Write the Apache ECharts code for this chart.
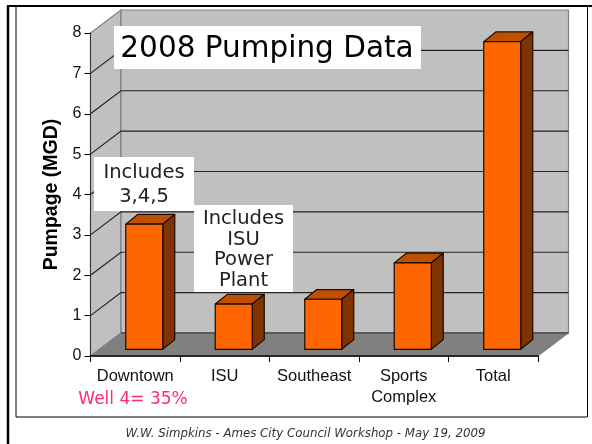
<!DOCTYPE html>
<html>
<head>
<meta charset="utf-8">
<style>
  html, body { margin: 0; padding: 0; background: #fff; }
  #main { width: 592px; height: 444px; }
</style>
<script src="https://cdn.jsdelivr.net/npm/echarts@6/dist/echarts.min.js"></script>
</head>
<body>
<div id="main"></div>
<script>
var categories = ['Downtown', 'ISU', 'Southeast', 'Sports\nComplex', 'Total'];
var pumpage = [3.1, 1.12, 1.24, 2.14, 7.62];
var yTicks = [1, 2, 3, 4, 5, 6, 7];

// fake 3d offsets
var wallDx = 30.5, wallDy = 23;
var barDx = 9, barDy = 6.7;
var sideDx = 12, sideDy = 9.7;
var barW = 37;

var chart = echarts.init(document.getElementById('main'), null, { renderer: 'canvas' });

function renderWalls(params, api) {
  var g = params.coordSys;
  var x0 = g.x, x1 = g.x + g.width, y0 = g.y, y1 = g.y + g.height;
  var wall = { fill: '#c0c0c0', stroke: '#808080', lineWidth: 1.2 };
  return {
    type: 'group',
    children: [
      { type: 'polygon', shape: { points: [[x0, y1], [x0 + wallDx, y1 - wallDy], [x0 + wallDx, y0 - wallDy], [x0, y0]] }, style: wall },
      { type: 'polygon', shape: { points: [[x0 + wallDx, y1 - wallDy], [x1 + wallDx, y1 - wallDy], [x1 + wallDx, y0 - wallDy], [x0 + wallDx, y0 - wallDy]] }, style: wall },
      { type: 'polygon', shape: { points: [[x0, y1], [x1, y1], [x1 + wallDx, y1 - wallDy], [x0 + wallDx, y1 - wallDy]] }, style: { fill: '#808080', stroke: '#808080', lineWidth: 1 } },
      { type: 'line', shape: { x1: x0 + wallDx, y1: y1 - wallDy, x2: x1 + wallDx, y2: y1 - wallDy }, style: { stroke: '#4d4d4d', lineWidth: 1.4 } }
    ]
  };
}

function renderGrid(params, api) {
  var g = params.coordSys;
  var y = api.coord([0, api.value(1)])[1];
  return {
    type: 'polyline',
    shape: { points: [[g.x, y], [g.x + wallDx, y - wallDy], [g.x + g.width + wallDx, y - wallDy]] },
    style: { fill: 'none', stroke: '#222', lineWidth: 1.2 }
  };
}

function renderBar(params, api) {
  var top = api.coord([api.value(0), api.value(1)]);
  var base = api.coord([api.value(0), 0]);
  var xl = top[0] - barW / 2 + barDx;
  var xr = xl + barW;
  var yt = top[1] - barDy;
  var yb = base[1] - barDy;
  var edge = { stroke: '#1a0a00', lineWidth: 1.2, lineJoin: 'round' };
  return {
    type: 'group',
    children: [
      { type: 'polygon', shape: { points: [[xl, yt], [xr, yt], [xr + sideDx, yt - sideDy], [xl + sideDx, yt - sideDy]] }, style: Object.assign({ fill: '#bf5000' }, edge) },
      { type: 'polygon', shape: { points: [[xr, yt], [xr + sideDx, yt - sideDy], [xr + sideDx, yb - sideDy], [xr, yb]] }, style: Object.assign({ fill: '#7f3300' }, edge) },
      { type: 'rect', shape: { x: xl, y: yt, width: barW, height: yb - yt }, style: Object.assign({ fill: '#ff6600' }, edge) }
    ]
  };
}

function box(x, y, w, h) {
  return { type: 'rect', z: 50, shape: { x: x, y: y, width: w, height: h }, style: { fill: '#fff' } };
}

function note(txt, x, y, size, lh, color, extra) {
  return {
    type: 'text', z: 60, x: x, y: y,
    style: Object.assign({
      text: txt, fill: color, font: size + 'px "DejaVu Sans"', lineHeight: lh,
      align: 'center', verticalAlign: 'middle'
    }, extra || {})
  };
}

function border(x1, y1, x2, y2, w) {
  return { type: 'line', z: 70, shape: { x1: x1, y1: y1, x2: x2, y2: y2 }, style: { stroke: '#000', lineWidth: w } };
}

var option = {
  animation: false,
  grid: { left: 90.5, top: 33, width: 447.5, height: 323, containLabel: false },
  xAxis: {
    type: 'category',
    data: categories,
    boundaryGap: true,
    z: 10,
    axisLine: { lineStyle: { color: '#000', width: 1.5 } },
    axisTick: { show: true, alignWithLabel: false, length: 6, lineStyle: { color: '#000', width: 1 } },
    axisLabel: { color: '#111', fontFamily: 'Liberation Sans', fontSize: 16.5, margin: 10, lineHeight: 21, interval: 0 }
  },
  yAxis: {
    type: 'value',
    min: 0,
    max: 8,
    interval: 1,
    name: 'Pumpage (MGD)',
    nameLocation: 'middle',
    nameRotate: 90,
    nameGap: 28,
    nameTextStyle: { color: '#000', fontFamily: 'Liberation Sans', fontWeight: 'bold', fontSize: 19.5 },
    z: 10,
    splitLine: { show: false },
    axisLine: { show: true, lineStyle: { color: '#333', width: 1 } },
    axisTick: { show: true, length: 6, lineStyle: { color: '#000', width: 1 } },
    axisLabel: { color: '#111', fontFamily: 'Liberation Sans', fontSize: 16, margin: 9 }
  },
  series: [
    { type: 'custom', name: 'walls', silent: true, z: 1, clip: false, renderItem: renderWalls, data: [[0, 0]] },
    { type: 'custom', name: 'grid', silent: true, z: 2, clip: false, renderItem: renderGrid, data: yTicks.map(function (v) { return [0, v]; }) },
    { type: 'custom', name: 'Pumpage', z: 3, clip: false, renderItem: renderBar, data: pumpage.map(function (v, i) { return [i, v]; }) }
  ],
  graphic: [
    box(114, 26, 307, 43),
    note('2008 Pumping Data', 267, 49, 29.5, 36, '#000'),
    box(94, 157, 100, 54),
    note('Includes\n3,4,5', 144, 185, 19.5, 24, '#222'),
    box(194, 205, 99, 87),
    note('Includes\nISU\nPower\nPlant', 243.5, 250, 19.5, 20.5, '#222'),
    note('Well 4= 35%', 133, 400, 17, 18, '#ff2a75'),
    note('W.W. Simpkins - Ames City Council Workshop - May 19, 2009', 305.5, 434, 11.8, 14, '#333', { font: 'italic 11.8px "DejaVu Sans"' }),
    border(7, 6, 592, 6, 2),
    border(8, 6, 8, 444, 2.5),
    border(16, 6, 16, 417, 1),
    border(16, 417, 587, 417, 1.2),
    border(587.5, 6, 587.5, 417, 1)
  ]
};

chart.setOption(option);
</script>
</body>
</html>
